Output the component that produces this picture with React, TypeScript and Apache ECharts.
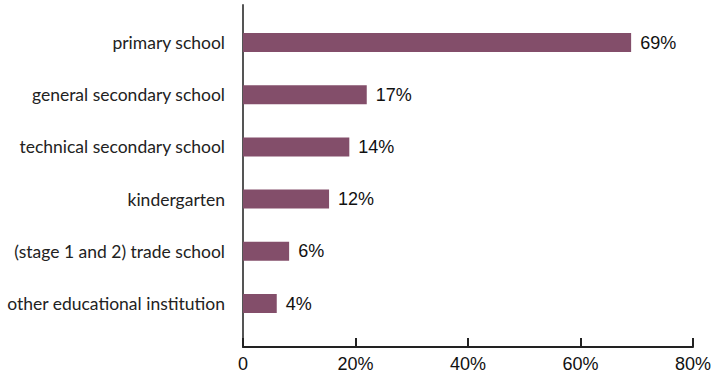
import React, { useEffect, useRef } from "react";
import * as echarts from "echarts";

const categories = [
  "primary school",
  "general secondary school",
  "technical secondary school",
  "kindergarten",
  "(stage 1 and 2) trade school",
  "other educational institution",
];
const barValues = [69, 22, 18.9, 15.3, 8.2, 6];
const barLabels = ["69%", "17%", "14%", "12%", "6%", "4%"];
const xTicks = [0, 20, 40, 60, 80];

export default function App() {
  const ref = useRef<HTMLDivElement>(null);
  useEffect(() => {
    const chart = echarts.init(ref.current!, null, { renderer: "svg" });
    chart.setOption({
      animation: false,
      grid: [
        { left: 243, right: 23, top: 5, bottom: 26 },
        { left: 243, right: 23, top: 16.4, bottom: 43.4 },
      ],
      xAxis: [
        {
          gridIndex: 0,
          type: "value",
          min: xTicks[0],
          max: xTicks[xTicks.length - 1],
          interval: 20,
          splitLine: { show: false },
          axisLine: { show: true, lineStyle: { color: "#222", width: 2 } },
          axisTick: { show: true, inside: true, length: 9, lineStyle: { color: "#222", width: 2 } },
          axisLabel: {
            color: "#111",
            fontFamily: "Liberation Sans",
            fontSize: 18,
            margin: 8,
            formatter: (v: number) => (v === 0 ? "0" : v + "%"),
          },
        },
        {
          gridIndex: 1,
          type: "value",
          min: xTicks[0],
          max: xTicks[xTicks.length - 1],
          show: false,
        },
      ],
      yAxis: [
        {
          gridIndex: 0,
          type: "value",
          min: 0,
          max: 1,
          axisLine: { show: true, lineStyle: { color: "#555", width: 2 } },
          axisTick: { show: false },
          axisLabel: { show: false },
          splitLine: { show: false },
        },
        {
          gridIndex: 1,
          type: "category",
          inverse: true,
          data: categories,
          axisLine: { show: false },
          axisTick: { show: false },
          axisLabel: {
            color: "#222",
            fontFamily: "Lato",
            fontSize: 17.5,
            margin: 18,
          },
        },
      ],
      series: [
        {
          type: "bar",
          xAxisIndex: 1,
          yAxisIndex: 1,
          data: barValues,
          barWidth: 19,
          itemStyle: { color: "#834E6A" },
          label: {
            show: true,
            position: "right",
            distance: 9,
            color: "#111",
            fontFamily: "Liberation Sans",
            fontSize: 18,
            formatter: (p: any) => barLabels[p.dataIndex],
          },
        },
      ],
    });
    return () => chart.dispose();
  }, []);
  return (
    <div
      ref={ref}
      style={{ position: "fixed", left: 0, top: 0, width: 716, height: 373, background: "#fff" }}
    />
  );
}
